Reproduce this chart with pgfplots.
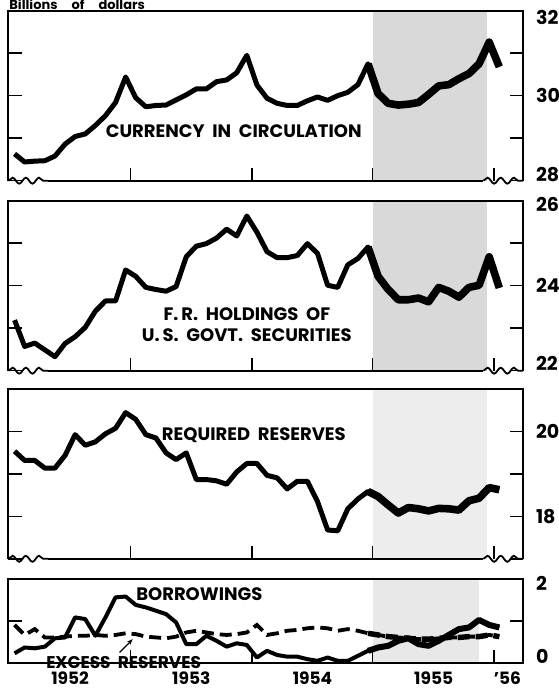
\documentclass[border=0pt]{standalone}
\usepackage{fontspec}
\setmainfont{Poppins}
\usepackage{pgfplots}
\usepackage{pgfplotstable}
\pgfplotsset{compat=1.18}
\usetikzlibrary{decorations.pathmorphing,arrows.meta}

% monthly values, Jan 1952 - Jan 1956 (billions of dollars)
\pgfplotstableread{
m    cur   fr    req   bor  exc
0.5  28.63 23.19 19.54 0.22 0.90
1.5  28.44 22.57 19.32 0.36 0.66
2.5  28.46 22.65 19.32 0.34 0.80
3.5  28.47 22.49 19.14 0.38 0.60
4.5  28.58 22.33 19.14 0.58 0.60
5.5  28.86 22.64 19.44 0.60 0.62
6.5  29.04 22.80 19.93 1.08 0.64
7.5  29.10 23.02 19.68 1.04 0.64
8.5  29.30 23.40 19.76 0.64 0.66
9.5  29.53 23.64 19.95 1.08 0.64
10.5 29.84 23.64 20.08 1.56 0.66
11.5 30.44 24.37 20.45 1.58 0.70
12.5 29.95 24.22 20.29 1.38 0.68
13.5 29.74 23.96 19.93 1.32 0.62
14.5 29.77 23.91 19.85 1.24 0.60
15.5 29.78 23.87 19.50 1.16 0.58
16.5 29.90 23.98 19.34 0.96 0.62
17.5 30.02 24.68 19.50 0.44 0.72
18.5 30.16 24.93 18.87 0.44 0.76
19.5 30.16 24.99 18.87 0.64 0.72
20.5 30.33 25.12 18.84 0.52 0.68
21.5 30.37 25.33 18.76 0.38 0.66
22.5 30.54 25.17 19.05 0.46 0.68
23.5 30.95 25.64 19.25 0.42 0.72
24.5 30.25 25.26 19.25 0.12 0.90
25.5 29.94 24.80 18.97 0.28 0.66
26.5 29.82 24.66 18.91 0.18 0.70
27.5 29.77 24.66 18.65 0.14 0.76
28.5 29.77 24.71 18.83 0.14 0.78
29.5 29.88 24.99 18.83 0.08 0.82
30.5 29.97 24.76 18.35 0.04 0.84
31.5 29.89 24.01 17.68 0.12 0.82
32.5 30.00 23.96 17.66 0.04 0.76
33.5 30.08 24.49 18.18 0.04 0.80
34.5 30.26 24.64 18.41 0.16 0.76
35.5 30.75 24.91 18.59 0.28 0.70
36.5 30.05 24.22 18.47 0.36 0.66
37.5 29.82 23.91 18.27 0.40 0.62
38.5 29.78 23.67 18.08 0.52 0.60
39.5 29.80 23.67 18.21 0.58 0.58
40.5 29.84 23.71 18.18 0.44 0.56
41.5 30.03 23.62 18.13 0.40 0.56
42.5 30.23 23.96 18.19 0.52 0.58
43.5 30.26 23.87 18.18 0.66 0.60
44.5 30.40 23.73 18.15 0.80 0.60
45.5 30.52 23.96 18.37 0.84 0.62
46.5 30.75 24.01 18.43 1.02 0.62
47.5 31.26 24.68 18.68 0.90 0.66
48.5 30.68 23.95 18.63 0.84 0.62
}\data

\tikzset{lbl/.style={font=\fontsize{9}{10.5}\selectfont\bfseries, align=center}}

\pgfplotsset{
  panel/.style={
    scale only axis, width=257.25pt,
    xmin=-0.1, xmax=50.85, clip=false,
    axis line style={draw=none},
    tick align=inside,
    xtick={12,24,36,48}, xticklabels={}, xtick pos=bottom,
    ytick pos=both, yticklabel pos=right,
    major tick length=6.5pt,
    tick style={line width=0.8pt, black},
    /pgf/number format/assume math mode=true,
    yticklabel style={font=\fontsize{9.5}{10}\selectfont\bfseries, xshift=3pt},
    xticklabel style={font=\fontsize{8.5}{9}\selectfont\bfseries},
    extra y tick style={major tick length=0pt},
  },
  brokenframe/.style={after end axis/.append code={
    \draw[line width=1pt] (rel axis cs:0,0) -- (rel axis cs:0,1) -- (rel axis cs:1,1) -- (rel axis cs:1,0);
    \draw[line width=1pt] (rel axis cs:0.077,0) -- (rel axis cs:0.923,0);
    \draw[line width=0.9pt, decorate, decoration={snake, amplitude=1.5pt, segment length=6.6pt}]
      (rel axis cs:0,0) -- (rel axis cs:0.077,0);
    \draw[line width=0.9pt, decorate, decoration={snake, amplitude=1.5pt, segment length=6.6pt}]
      (rel axis cs:0.923,0) -- (rel axis cs:1,0);
  }},
  ser/.style={black, line width=2.5pt, line join=round},
  serthick/.style={black, line width=3.8pt, line join=round, restrict x to domain=35:50},
}

\begin{document}
\begin{tikzpicture}
\useasboundingbox (0,0) rectangle (279pt,-344pt);
\node[anchor=base west, inner sep=0pt, font=\fontsize{6.5}{7}\selectfont\bfseries] at (4.5pt,-4.75pt)
  {Billions\hspace{7pt}of\hspace{7pt}dollars};

% currency in circulation
\begin{axis}[panel, brokenframe, at={(4.25pt,-5.35pt)}, anchor=north west, height=85pt,
  ymin=28, ymax=32, ytick={28,...,32}, yticklabels={,,30,,},
  extra y ticks={28.15,31.85}, extra y tick labels={28,32}]
\addplot[draw=none, fill=black!15, forget plot] coordinates {(36,28) (36,32) (47.3,32) (47.3,28)} -- cycle;
\addplot[ser] table[x=m, y=cur] {\data};
\addplot[serthick] table[x=m, y=cur] {\data};
\node[lbl] at (axis cs:22.2,29.16) {CURRENCY\ \ IN\ \ CIRCULATION};
\end{axis}

% F.R. holdings
\begin{axis}[panel, brokenframe, at={(4.25pt,-100.35pt)}, anchor=north west, height=85pt,
  ymin=22, ymax=26, ytick={22,...,26}, yticklabels={,,24,,},
  extra y ticks={22.18,25.9}, extra y tick labels={22,26}]
\addplot[draw=none, fill=black!15, forget plot] coordinates {(36,22) (36,26) (47.3,26) (47.3,22)} -- cycle;
\addplot[ser] table[x=m, y=fr] {\data};
\addplot[serthick] table[x=m, y=fr] {\data};
\node[lbl] at (axis cs:23.5,23.09) {F.\,R.\ \ HOLDINGS\ \ OF\\U.\,S.\ \ GOVT.\ \ SECURITIES};
\end{axis}

% required reserves
\begin{axis}[panel, brokenframe, at={(4.25pt,-194.65pt)}, anchor=north west, height=84.75pt,
  ymin=17, ymax=21, ytick={17,...,21}, yticklabels={,18,,20,}]
\addplot[draw=none, fill=black!7, forget plot] coordinates {(36,17) (36,21) (47.3,21) (47.3,17)} -- cycle;
\addplot[ser] table[x=m, y=req] {\data};
\addplot[serthick] table[x=m, y=req] {\data};
\node[lbl] at (axis cs:24.2,19.92) {REQUIRED\ \ RESERVES};
\end{axis}

% borrowings and excess reserves
\begin{axis}[panel, at={(4.25pt,-289.5pt)}, anchor=north west, height=41.75pt,
  ymin=0, ymax=2, ytick={0,1,2}, yticklabels={,,},
  extra y ticks={0.15,1.9}, extra y tick labels={0,2},
  extra x ticks={6,18,30,42,49.3}, extra x tick labels={1952,1953,1954,1955,'56},
  extra x tick style={major tick length=0pt,
    xticklabel style={anchor=base, yshift=-11pt, text depth=0pt, inner sep=1pt}},
  after end axis/.append code={
    \draw[line width=1pt] (rel axis cs:0,0) rectangle (rel axis cs:1,1);
  }]
\addplot[draw=none, fill=black!9, forget plot] coordinates {(36,0) (36,2) (46.5,2) (46.5,0)} -- cycle;
\addplot[black, line width=1.9pt, dash pattern=on 6pt off 3pt] table[x=m, y=exc] {\data};
\addplot[black, line width=2.7pt, dash pattern=on 6pt off 3pt, restrict x to domain=35:50] table[x=m, y=exc] {\data};
\addplot[ser, line width=2pt] table[x=m, y=bor] {\data};
\addplot[ser, line width=3pt, restrict x to domain=35:50] table[x=m, y=bor] {\data};
\node[lbl] at (axis cs:18.8,1.64) {BORROWINGS};
\draw[-{Stealth[length=3pt]}, line width=0.6pt] (axis cs:10.9,0.24) -- (axis cs:12.2,0.56);
\node[lbl, font=\fontsize{8.5}{9}\selectfont\bfseries, fill=white, inner xsep=3pt, inner ysep=0pt]
  at (axis cs:11.3,0) {EXCESS\ \ RESERVES};
\end{axis}
\end{tikzpicture}
\end{document}
